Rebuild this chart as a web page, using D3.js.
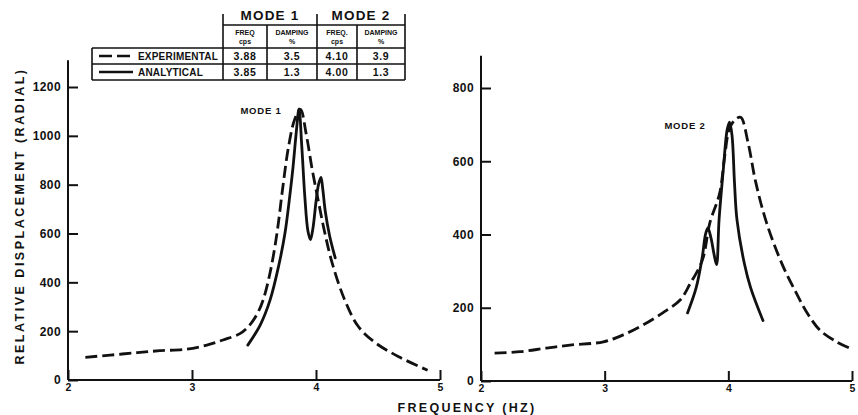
<!DOCTYPE html>
<html><head><meta charset="utf-8">
<script src="https://cdn.jsdelivr.net/npm/d3@7"></script>
<style>
html,body{margin:0;padding:0;background:#fff;}
svg{display:block;}
text{font-family:"Liberation Sans",Arial,sans-serif;font-weight:bold;fill:#111;}
</style></head>
<body>
<svg id="chart" width="858" height="415"></svg>
<script>
// ---------- DATA ----------
const freqTicks = [2, 3, 4, 5];
const mode1Ticks = [0, 200, 400, 600, 800, 1000, 1200];
const mode2Ticks = [0, 200, 400, 600, 800];

// Mode 1 panel  [frequency Hz, relative displacement]
const mode1Experimental = [
  [2.14, 93], [2.34, 102], [2.56, 112], [2.74, 120], [2.96, 126], [3.12, 143],
  [3.25, 164], [3.39, 191], [3.47, 228], [3.53, 275], [3.575, 330], [3.63, 440],
  [3.685, 600], [3.73, 780], [3.78, 960], [3.83, 1070], [3.875, 1108], [3.92, 1010],
  [3.97, 860], [4.02, 730], [4.07, 605], [4.13, 480], [4.23, 330], [4.34, 220],
  [4.48, 152], [4.68, 92], [4.90, 40]
];
const mode1Analytical = [
  [3.45, 143], [3.55, 225], [3.63, 328], [3.70, 470], [3.75, 602], [3.79, 760],
  [3.815, 873], [3.84, 1010], [3.863, 1110], [3.885, 960], [3.91, 750], [3.935, 610],
  [3.955, 575], [3.975, 620], [4.00, 730], [4.02, 800], [4.04, 830], [4.055, 780],
  [4.075, 690], [4.11, 590], [4.155, 500]
];

// Mode 2 panel
const mode2Experimental = [
  [2.11, 76], [2.32, 80], [2.53, 90], [2.72, 98], [2.99, 107], [3.15, 126],
  [3.31, 153], [3.47, 186], [3.61, 221], [3.69, 265], [3.79, 330], [3.85, 431],
  [3.93, 513], [3.97, 612], [4.01, 690], [4.06, 715], [4.10, 720], [4.16, 650],
  [4.22, 545], [4.31, 431], [4.44, 315], [4.55, 240], [4.63, 190], [4.74, 139],
  [4.88, 106], [4.98, 90]
];
const mode2Analytical = [
  [3.67, 186], [3.74, 255], [3.79, 340], [3.815, 400], [3.835, 418], [3.86, 390],
  [3.885, 345], [3.905, 318], [3.925, 440], [3.96, 580], [3.99, 685], [4.01, 707],
  [4.03, 670], [4.05, 540], [4.07, 440], [4.13, 320], [4.18, 255], [4.28, 165]
];

// Table
const tableModes = ["MODE 1", "MODE 2"];
const tableSubHeads = [["FREQ", "cps"], ["DAMPING", "%"], ["FREQ.", "cps"], ["DAMPING", "%"]];
const tableRowNames = ["EXPERIMENTAL", "ANALYTICAL"];
const tableValues = [["3.88", "3.5", "4.10", "3.9"], ["3.85", "1.3", "4.00", "1.3"]];

const yLabel = "RELATIVE DISPLACEMENT (RADIAL)";
const xLabel = "FREQUENCY (HZ)";

// ---------- DRAW ----------
const svg = d3.select("#chart");
const ink = "#111";

function panel(cfg) {
  const x = d3.scaleLinear().domain([2, 5]).range(cfg.xr);
  const y = d3.scaleLinear().domain([0, cfg.yMax]).range(cfg.yr);
  const g = svg.append("g");

  g.append("line").attr("x1", x(2)).attr("x2", x(2))
    .attr("y1", y(0)).attr("y2", y(cfg.yTop))
    .attr("stroke", ink).attr("stroke-width", 2);
  g.append("line").attr("x1", x(2)).attr("x2", x(5))
    .attr("y1", y(0)).attr("y2", y(0))
    .attr("stroke", ink).attr("stroke-width", 2);

  const ya = d3.axisLeft(y).tickValues(cfg.yTicks).tickSizeInner(-10).tickSizeOuter(0).tickPadding(7).tickFormat(d3.format("d"));
  const gy = g.append("g").attr("transform", `translate(${x(2)},0)`).call(ya);
  gy.select(".domain").remove();
  gy.selectAll(".tick line").attr("stroke", ink).attr("stroke-width", 2);
  gy.selectAll(".tick text").attr("font-size", 12).attr("letter-spacing", 0.4)
    .attr("font-family", "Liberation Sans, Arial, sans-serif").attr("font-weight", "bold").attr("fill", ink);

  const xa = d3.axisBottom(x).tickValues(freqTicks).tickSizeInner(-10).tickSizeOuter(0).tickPadding(4).tickFormat(d3.format("d"));
  const gx = g.append("g").attr("transform", `translate(0,${y(0)})`).call(xa);
  gx.select(".domain").remove();
  gx.selectAll(".tick line").attr("stroke", ink).attr("stroke-width", 2);
  gx.selectAll(".tick text").attr("font-size", 10.5)
    .attr("font-family", "Liberation Sans, Arial, sans-serif").attr("font-weight", "bold").attr("fill", ink);

  const line = d3.line().x(d => x(d[0])).y(d => y(d[1])).curve(d3.curveCatmullRom.alpha(0.5));
  g.append("path").datum(cfg.exp).attr("d", line)
    .attr("fill", "none").attr("stroke", ink).attr("stroke-width", 2.8)
    .attr("stroke-dasharray", "12,5").attr("stroke-linecap", "butt");
  g.append("path").datum(cfg.ana).attr("d", line)
    .attr("fill", "none").attr("stroke", ink).attr("stroke-width", 2.8)
    .attr("stroke-linejoin", "round").attr("stroke-linecap", "round");

  g.append("text").attr("x", cfg.label[0]).attr("y", cfg.label[1])
    .attr("font-size", 9.5).attr("letter-spacing", 0.8).attr("text-anchor", "middle").text(cfg.labelText);
  return { x, y };
}

panel({ xr: [68, 440], yr: [380, 87], yMax: 1200, yTop: 1310, yTicks: mode1Ticks,
  exp: mode1Experimental, ana: mode1Analytical, label: [261, 114], labelText: "MODE 1" });
panel({ xr: [481, 852], yr: [381, 88], yMax: 800, yTop: 888, yTicks: mode2Ticks,
  exp: mode2Experimental, ana: mode2Analytical, label: [685, 129], labelText: "MODE 2" });

// axis titles
svg.append("text").attr("transform", "translate(24,216) rotate(-90)")
  .attr("text-anchor", "middle").attr("font-size", 12.5).attr("letter-spacing", 2.5).text(yLabel);
svg.append("text").attr("x", 467).attr("y", 412)
  .attr("text-anchor", "middle").attr("font-size", 12.5).attr("letter-spacing", 2.3).text(xLabel);

// ---------- TABLE ----------
const tg = svg.append("g");
const colX = [92, 223, 267, 317, 357, 405];
const rowY = [25, 48, 64, 80];
const stroke = (sel, w) => sel.attr("stroke", ink).attr("stroke-width", w || 1.6);

tableModes.forEach((m, i) => {
  const cx = (colX[1 + 2 * i] + colX[3 + 2 * i]) / 2;
  tg.append("text").attr("x", cx).attr("y", 20).attr("text-anchor", "middle")
    .attr("font-size", 13.5).attr("letter-spacing", 1.2).text(m);
});
[colX[1], colX[3], colX[5]].forEach(cx => {
  stroke(tg.append("line").attr("x1", cx).attr("x2", cx).attr("y1", 14).attr("y2", rowY[3]));
});
[colX[2], colX[4]].forEach(cx => {
  stroke(tg.append("line").attr("x1", cx).attr("x2", cx).attr("y1", rowY[0]).attr("y2", rowY[3]));
});
stroke(tg.append("line").attr("x1", colX[0]).attr("x2", colX[0]).attr("y1", rowY[1]).attr("y2", rowY[3]));
stroke(tg.append("line").attr("x1", colX[1]).attr("x2", colX[5]).attr("y1", rowY[0]).attr("y2", rowY[0]));
[rowY[1], rowY[2], rowY[3]].forEach(ry => {
  stroke(tg.append("line").attr("x1", colX[0]).attr("x2", colX[5]).attr("y1", ry).attr("y2", ry));
});
tableSubHeads.forEach((s, i) => {
  const cx = (colX[1 + i] + colX[2 + i]) / 2;
  tg.append("text").attr("x", cx).attr("y", 34.5).attr("text-anchor", "middle").attr("font-size", 7).text(s[0]);
  tg.append("text").attr("x", cx).attr("y", 43.5).attr("text-anchor", "middle").attr("font-size", 7).text(s[1]);
});
tableRowNames.forEach((name, r) => {
  const midY = (rowY[1 + r] + rowY[2 + r]) / 2;
  const sample = tg.append("line").attr("x1", 99).attr("x2", 133)
    .attr("y1", midY).attr("y2", midY).attr("stroke", ink).attr("stroke-width", 2.6);
  if (r === 0) sample.attr("stroke-dasharray", "13,5");
  tg.append("text").attr("x", 138).attr("y", midY + 3.7).attr("font-size", 10).attr("letter-spacing", 0.2).text(name);
  tableValues[r].forEach((v, c) => {
    const cx = (colX[1 + c] + colX[2 + c]) / 2;
    tg.append("text").attr("x", cx).attr("y", midY + 4).attr("text-anchor", "middle")
      .attr("font-size", 10.5).attr("letter-spacing", 0.6).text(v);
  });
});
</script>
</body></html>
